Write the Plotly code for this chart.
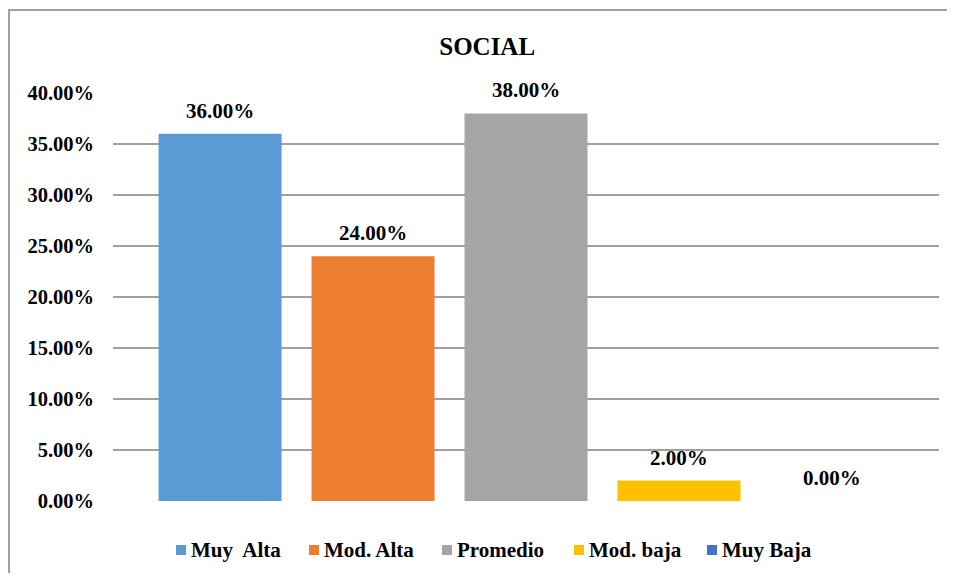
import plotly.graph_objects as go

categories = ["Muy\u00a0 Alta", "Mod. Alta", "Promedio", "Mod. baja", "Muy Baja"]
values = [0.36, 0.24, 0.38, 0.02, 0.00]
colors = ["#5B9BD5", "#ED7D31", "#A5A5A5", "#FFC000", "#4472C4"]
title_text = "SOCIAL"
tick_vals = [0, 0.05, 0.10, 0.15, 0.20, 0.25, 0.30, 0.35, 0.40]

FONT = "Liberation Serif, Times New Roman, serif"

# page is drawn with an 8px body margin; figure is sized so the plot area
# lands at x 113..939, y 93..501 in the window, without page scrollbars
OFF = 8
W, H = 955 - 2 * OFF, 581 - 2 * OFF
ML, MT = 113 - OFF, 93 - OFF
MR = OFF + W - 939
MB = OFF + H - 501
PW, PH = W - ML - MR, H - MT - MB


def px_to_paper_x(px):
    return (px - OFF - ML) / PW


def px_to_paper_y(py):
    return (H - MB - (py - OFF)) / PH


fig = go.Figure()
for name, val, col in zip(categories, values, colors):
    fig.add_trace(go.Bar(x=[name], y=[val], name=name, marker_color=col,
                         marker_line_width=0, width=0.804, showlegend=False))
    fig.add_annotation(x=name, y=val, text=f"{val*100:.2f}%", showarrow=False,
                       yanchor="bottom", yshift=9,
                       font=dict(family=FONT, size=21, color="black", weight="bold"))

# legend (square marker right before text, as in the reference)
legend_marker_px = [176, 309, 442, 574, 707]
legend_y_px = 550
for name, col, mx in zip(categories, colors, legend_marker_px):
    fig.add_shape(type="rect", xref="paper", yref="paper",
                  x0=px_to_paper_x(mx), x1=px_to_paper_x(mx + 10),
                  y0=px_to_paper_y(legend_y_px + 5), y1=px_to_paper_y(legend_y_px - 5),
                  fillcolor=col, line_width=0)
    fig.add_annotation(xref="paper", yref="paper", x=px_to_paper_x(mx + 13),
                       y=px_to_paper_y(legend_y_px), xanchor="left", yanchor="middle",
                       text=name, showarrow=False,
                       font=dict(family=FONT, size=21, color="black", weight="bold"))

fig.update_layout(
    width=W, height=H,
    margin=dict(l=ML, r=MR, t=MT, b=MB),
    paper_bgcolor="white", plot_bgcolor="white",
    barmode="overlay",
    showlegend=False,
    title=dict(text=title_text, xref="paper", x=0.453, xanchor="center",
               y=1 - (46 - OFF) / H, yanchor="middle",
               font=dict(family=FONT, size=25, color="black", weight="bold")),
    xaxis=dict(type="category", range=[-0.7, 4.7], showticklabels=False,
               showgrid=False, zeroline=False, showline=False),
    yaxis=dict(range=[0, 0.40], tickvals=tick_vals, tickformat=".2%",
               showgrid=True, gridcolor="#a0a0a0", gridwidth=1.5,
               zeroline=False, showline=False, ticks="", ticklabelstandoff=18,
               tickfont=dict(family=FONT, size=20.5, color="black", weight="bold")),
)

# outer chart frame (left and top edges visible), drawn as one open path
fx0 = OFF + 1 - OFF
fy0 = 10 - OFF
path = f"M {fx0},{H} L {fx0},{fy0} L {W},{fy0}"
fig.add_shape(type="path", xref="paper", yref="paper", xsizemode="pixel", ysizemode="pixel",
              xanchor=-ML / PW, yanchor=1 + MT / PH,
              path=f"M {fx0},{-H} L {fx0},{-fy0} L {W},{-fy0}",
              line=dict(color="#a0a0a0", width=2))

fig.write_html("out.html", config={"displayModeBar": False})
